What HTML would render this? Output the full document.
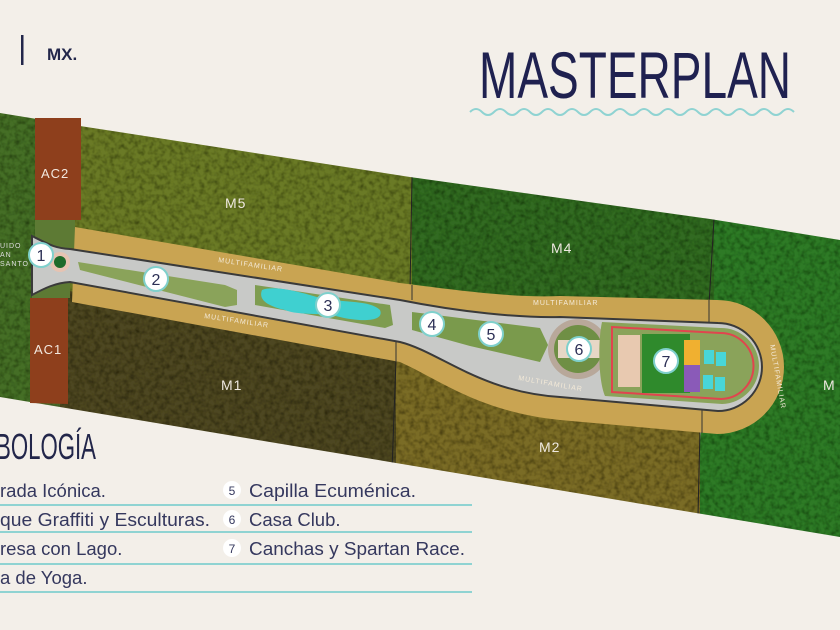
<!DOCTYPE html>
<html><head><meta charset="utf-8"><style>
html,body{margin:0;padding:0;background:#f3efe9;}
svg{display:block}
</style></head><body>
<svg width="840" height="630" viewBox="0 0 840 630" xmlns="http://www.w3.org/2000/svg" font-family="Liberation Sans, sans-serif">
<defs>
<filter id="tex" x="0" y="0" width="100%" height="100%">
<feTurbulence type="fractalNoise" baseFrequency="0.2" numOctaves="2" seed="3" result="n"/>
<feColorMatrix in="n" type="matrix" values="0 0 0 0 0  0 0 0 0 0  0 0 0 0 0  0 0 0 1.2 -0.45" result="a"/>
<feComposite in="a" in2="SourceGraphic" operator="in" result="m"/>
<feMerge><feMergeNode in="SourceGraphic"/><feMergeNode in="m"/></feMerge>
</filter>
<clipPath id="land"><polygon points="0,113 80,126 410,177 710,219 840,240 840,537 0,397"/></clipPath>
</defs>
<rect width="840" height="630" fill="#f3efe9"/>
<g clip-path="url(#land)">
<g filter="url(#tex)">
<rect x="0" y="100" width="35" height="320" fill="#456e28"/>
<rect x="35" y="100" width="40" height="320" fill="#4e702e"/>
<polygon points="70,100 412,100 412,300 70,300" fill="#6a7a26"/>
<polygon points="412,100 714,100 714,320 412,300" fill="#316a22"/>
<polygon points="714,100 840,100 840,560 700,560 700,440 714,320" fill="#2f7a25"/>
<polygon points="60,290 396,330 396,480 60,480" fill="#4e4622"/>
<polygon points="396,330 700,380 700,560 396,560" fill="#7a6c26"/>
</g>
<line x1="412" y1="177" x2="410" y2="290" stroke="#222" stroke-width="1"/>
<line x1="714" y1="219" x2="709" y2="305" stroke="#222" stroke-width="1"/>
<line x1="396" y1="360" x2="392" y2="470" stroke="#222" stroke-width="1"/>
<line x1="700" y1="430" x2="698" y2="515" stroke="#222" stroke-width="1"/>
</g>
<rect x="35" y="118" width="46" height="102" fill="#8e3f1c"/>
<polygon points="30,298 68,298 68,404 30,403" fill="#8e3f1c"/>
<rect x="35" y="220" width="40" height="28" fill="#5d7a34"/>
<rect x="32" y="278" width="38" height="20" fill="#5d7a34"/>
<text x="41" y="178" font-size="13" fill="#f2e8df" letter-spacing="1">AC2</text>
<text x="34" y="354" font-size="13" fill="#f2e8df" letter-spacing="1">AC1</text>
<path d="M75,227 L400,283 C470,292 520,298 560,296 L717,300 A67,67 0 0 1 717,434 L560,420 C480,412 440,380 400,362 L72,302 Z" fill="#c9a452"/>
<line x1="412" y1="285" x2="412" y2="300" stroke="#333" stroke-width="1"/>
<line x1="709" y1="300" x2="709" y2="323" stroke="#333" stroke-width="1"/>
<line x1="396" y1="340" x2="396" y2="362" stroke="#333" stroke-width="1"/>
<line x1="702" y1="410" x2="702" y2="433" stroke="#333" stroke-width="1"/>
<path d="M32,236 C50,245 55,248 70,249 L400,300 C460,312 520,318 560,317 L718,323 A44,44 0 0 1 718,411 L560,397 C480,392 440,352 400,342 L70,282 C55,283 45,288 32,295 Z" fill="#c8c9c7" stroke="#3a3a3a" stroke-width="2"/>
<path d="M78,262 L225,285 L237,290 L237,305 L225,307 L80,270 Z" fill="#8aa35a"/>
<path d="M255,285 L390,305 L393,325 L385,328 L255,305 Z" fill="#7e9c50"/>
<path d="M262,290 C275,285 300,292 320,298 C345,303 370,300 380,310 C385,322 360,322 340,317 C320,312 300,316 285,310 C268,306 258,300 262,290 Z" fill="#3fd0d0"/>
<path d="M412,312 L540,328 L548,345 L540,362 L470,346 L412,330 Z" fill="#7a9a4c"/>
<circle cx="578" cy="349" r="30" fill="#b8a89a"/>
<circle cx="578" cy="349" r="24" fill="#6f8f45"/>
<rect x="558" y="340" width="42" height="18" fill="#e7d7c6"/>
<path d="M602,322 L720,328 A38,38 0 0 1 722,404 L605,396 C598,380 598,340 602,322 Z" fill="#8aa35a"/>
<path d="M612,327 L720,333 A33,33 0 0 1 721,399 L612,392 Z" fill="none" stroke="#e0454e" stroke-width="2"/>
<rect x="618" y="335" width="22" height="52" fill="#e8c9b0"/>
<rect x="642" y="334" width="48" height="59" fill="#2f8a2c"/>
<rect x="684" y="340" width="16" height="52" fill="#8a5ab8"/>
<rect x="684" y="340" width="16" height="25" fill="#f0b030"/>
<rect x="704" y="350" width="10" height="14" fill="#48d6d8"/>
<rect x="716" y="352" width="10" height="14" fill="#48d6d8"/>
<rect x="703" y="375" width="10" height="14" fill="#48d6d8"/>
<rect x="715" y="377" width="10" height="14" fill="#48d6d8"/>
<circle cx="60" cy="262" r="10" fill="#e6c3b2"/>
<circle cx="60" cy="262" r="6" fill="#1e6a2a"/>
<g font-size="7" fill="#f4ead8" letter-spacing="1">
<text transform="translate(218,262) rotate(8.5)">MULTIFAMILIAR</text>
<text transform="translate(204,318) rotate(8.5)">MULTIFAMILIAR</text>
<text x="533" y="305">MULTIFAMILIAR</text>
<text transform="translate(518,380) rotate(10)">MULTIFAMILIAR</text>
<text transform="translate(770,345) rotate(80)">MULTIFAMILIAR</text>
</g>
<g font-size="14" fill="#eee8e0" letter-spacing="1">
<text x="225" y="208">M5</text>
<text x="551" y="253">M4</text>
<text x="221" y="390">M1</text>
<text x="539" y="452">M2</text>
<text x="823" y="390">M</text>
</g>
<g font-size="7" fill="#ddd" letter-spacing="1"><text x="0" y="248">UIDO</text><text x="0" y="257">AN</text><text x="0" y="266">SANTO</text></g>
<g font-size="16" fill="#2c2f55" text-anchor="middle">
<g stroke="#7fd0cc" stroke-width="2" fill="#fff">
<circle cx="41" cy="255" r="12"/><circle cx="156" cy="279" r="12"/><circle cx="328" cy="305" r="12"/><circle cx="432" cy="324" r="12"/><circle cx="491" cy="334" r="12"/><circle cx="579" cy="349" r="12"/><circle cx="666" cy="361" r="12"/>
</g>
<text x="41" y="261">1</text><text x="156" y="285">2</text><text x="328" y="311">3</text><text x="432" y="330">4</text><text x="491" y="340">5</text><text x="579" y="355">6</text><text x="666" y="367">7</text>
</g>
<rect x="21" y="35" width="2.5" height="30" fill="#22264a"/>
<text x="47" y="60" font-size="17" font-weight="bold" fill="#22264a">MX.</text>
<text x="479" y="98" font-size="66" fill="#1f2150" textLength="312" lengthAdjust="spacingAndGlyphs" style="font-family:'Liberation Sans Narrow','Liberation Sans',sans-serif">MASTERPLAN</text>
<path d="M470,112 q6,-6 12,0 t12,0 t12,0 t12,0 t12,0 t12,0 t12,0 t12,0 t12,0 t12,0 t12,0 t12,0 t12,0 t12,0 t12,0 t12,0 t12,0 t12,0 t12,0 t12,0 t12,0 t12,0 t12,0 t12,0 t12,0 t12,0 t12,0" fill="none" stroke="#8fd3d2" stroke-width="2"/>
<text x="-4" y="459" font-size="36" fill="#22264a" textLength="100" lengthAdjust="spacingAndGlyphs" style="font-family:'Liberation Sans Narrow','Liberation Sans',sans-serif">BOLOGÍA</text>
<g stroke="#8fd3d2" stroke-width="2">
<line x1="0" y1="505" x2="472" y2="505"/><line x1="0" y1="532" x2="472" y2="532"/><line x1="0" y1="564" x2="472" y2="564"/><line x1="0" y1="592" x2="472" y2="592"/>
</g>
<g font-size="18.5" fill="#35385e">
<text x="0" y="497">rada Icónica.</text>
<text x="0" y="526" textLength="210" lengthAdjust="spacingAndGlyphs">que Graffiti y Esculturas.</text>
<text x="0" y="555">resa con Lago.</text>
<text x="0" y="584">a de Yoga.</text>
<text x="249" y="497" textLength="167" lengthAdjust="spacingAndGlyphs">Capilla Ecuménica.</text>
<text x="249" y="526">Casa Club.</text>
<text x="249" y="555" textLength="216" lengthAdjust="spacingAndGlyphs">Canchas y Spartan Race.</text>
</g>
<g fill="#fff"><circle cx="232" cy="490" r="9"/><circle cx="232" cy="519" r="9"/><circle cx="232" cy="548" r="9"/></g>
<g font-size="12" fill="#35385e" text-anchor="middle"><text x="232" y="495">5</text><text x="232" y="524">6</text><text x="232" y="553">7</text></g>
</svg>
</body></html>
